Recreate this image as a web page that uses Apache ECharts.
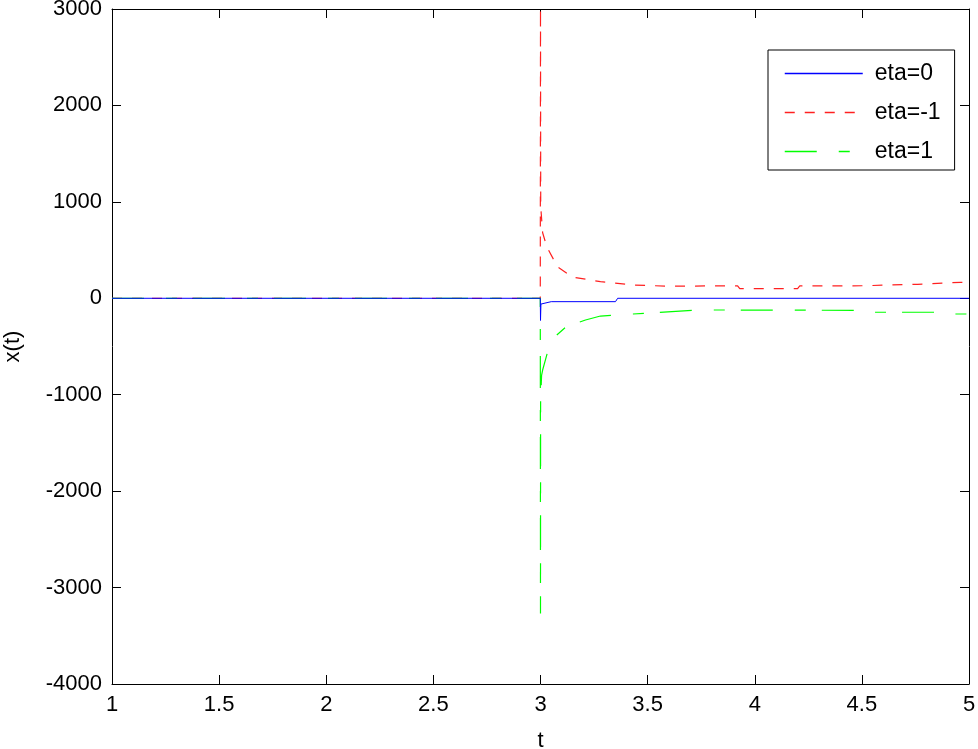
<!DOCTYPE html>
<html>
<head>
<meta charset="utf-8">
<script src="https://cdn.jsdelivr.net/npm/echarts@6/dist/echarts.min.js"></script>
<style>html,body{margin:0;padding:0;background:#fff;}#c{width:978px;height:749px;}</style>
</head>
<body>
<div id="c"></div>
<script>
// ---- data ----
const seriesNames = ['eta=0', 'eta=-1', 'eta=1'];
const xTicks = [1, 1.5, 2, 2.5, 3, 3.5, 4, 4.5, 5];
const yTicks = [-4000, -3000, -2000, -1000, 0, 1000, 2000, 3000];

const tBlue = [1, 2.999, 3.0, 3.002, 3.01, 3.05, 3.35, 3.36, 5];
const xBlue = [0, 0, -230, -60, -50, -35, -35, 0, 0];

const tRed = [1, 2.999, 3.0, 3.001, 3.01, 3.03, 3.08, 3.15, 3.28, 3.43, 3.6, 3.78, 3.92, 3.93, 4.2, 4.21, 4.5, 4.76, 4.96, 5];
const xRed = [0, 0, 3000, 950, 680, 530, 325, 220, 172, 138, 125, 128, 128, 100, 100, 128, 130, 145, 166, 166];

const tGreen = [1, 2.999, 3.0, 3.0005, 3.005, 3.01, 3.04, 3.05, 3.12, 3.21, 3.28, 3.43, 3.74, 4.55, 4.56, 4.85, 4.86, 5];
const xGreen = [0, 0, -3270, -1070, -800, -744, -502, -433, -294, -225, -184, -163, -121, -125, -145, -145, -163, -163];

function pairs(t, x) { return t.map((v, i) => [v, x[i]]); }

const font = 'Liberation Sans, Arial, Helvetica, sans-serif';
const chart = echarts.init(document.getElementById('c'), null, {renderer: 'canvas'});

const axisCommon = {
  axisLine: {show: true, onZero: false, lineStyle: {color: '#000', width: 1}},
  axisTick: {show: true, inside: true, length: 9, lineStyle: {color: '#000'}},
  splitLine: {show: false}
};

chart.setOption({
  animation: false,
  backgroundColor: '#fff',
  grid: {left: 112, right: 9, top: 9, bottom: 65, containLabel: false, outerBoundsMode: 'none'},
  legend: {
    data: seriesNames,
    orient: 'vertical',
    left: 768, top: 50,
    itemWidth: 78, itemHeight: 20, itemGap: 16,
    padding: [12, 14, 7, 16],
    borderColor: '#000', borderWidth: 1,
    backgroundColor: '#fff',
    itemStyle: {opacity: 0},
    lineStyle: {width: 1.5, color: 'inherit', type: 'inherit'},
    textStyle: {fontFamily: font, fontSize: 23, color: '#000', padding: [0, 0, 0, 7]}
  },
  xAxis: [
    Object.assign({}, axisCommon, {
      type: 'value', min: 1, max: 5, interval: 0.5, position: 'bottom',
      name: 't', nameLocation: 'middle', nameGap: 46,
      nameTextStyle: {fontFamily: font, fontSize: 22, color: '#000'},
      axisLabel: {fontFamily: font, fontSize: 22, color: '#000', margin: 10,
        formatter: v => String(v)}
    }),
    Object.assign({}, axisCommon, {
      type: 'value', min: 1, max: 5, interval: 0.5, position: 'top',
      axisLabel: {show: false}
    })
  ],
  yAxis: [
    Object.assign({}, axisCommon, {
      type: 'value', min: -4000, max: 3000, interval: 1000, position: 'left',
      name: 'x(t)', nameLocation: 'middle', nameGap: 88, nameRotate: 90,
      nameTextStyle: {fontFamily: font, fontSize: 22, color: '#000'},
      axisLabel: {fontFamily: font, fontSize: 22, color: '#000', margin: 10,
        formatter: v => String(v)}
    }),
    Object.assign({}, axisCommon, {
      type: 'value', min: -4000, max: 3000, interval: 1000, position: 'right',
      axisLabel: {show: false}
    })
  ],
  series: [
    {name: seriesNames[0], type: 'line', data: pairs(tBlue, xBlue), showSymbol: false, symbol: 'none',
      lineStyle: {color: '#0000ff', width: 1, type: 'solid'}, itemStyle: {color: '#0000ff'}, z: 3},
    {name: seriesNames[1], type: 'line', data: pairs(tRed, xRed), showSymbol: false, symbol: 'none',
      lineStyle: {color: '#ff2020', width: 1.2, type: [10, 10]}, itemStyle: {color: '#ff2020'}, z: 2},
    {name: seriesNames[2], type: 'line', data: pairs(tGreen, xGreen), showSymbol: false, symbol: 'none',
      lineStyle: {color: '#00ff00', width: 1.2, type: [32, 22, 11, 16]}, itemStyle: {color: '#00ff00'}, z: 2}
  ]
});
</script>
</body>
</html>
